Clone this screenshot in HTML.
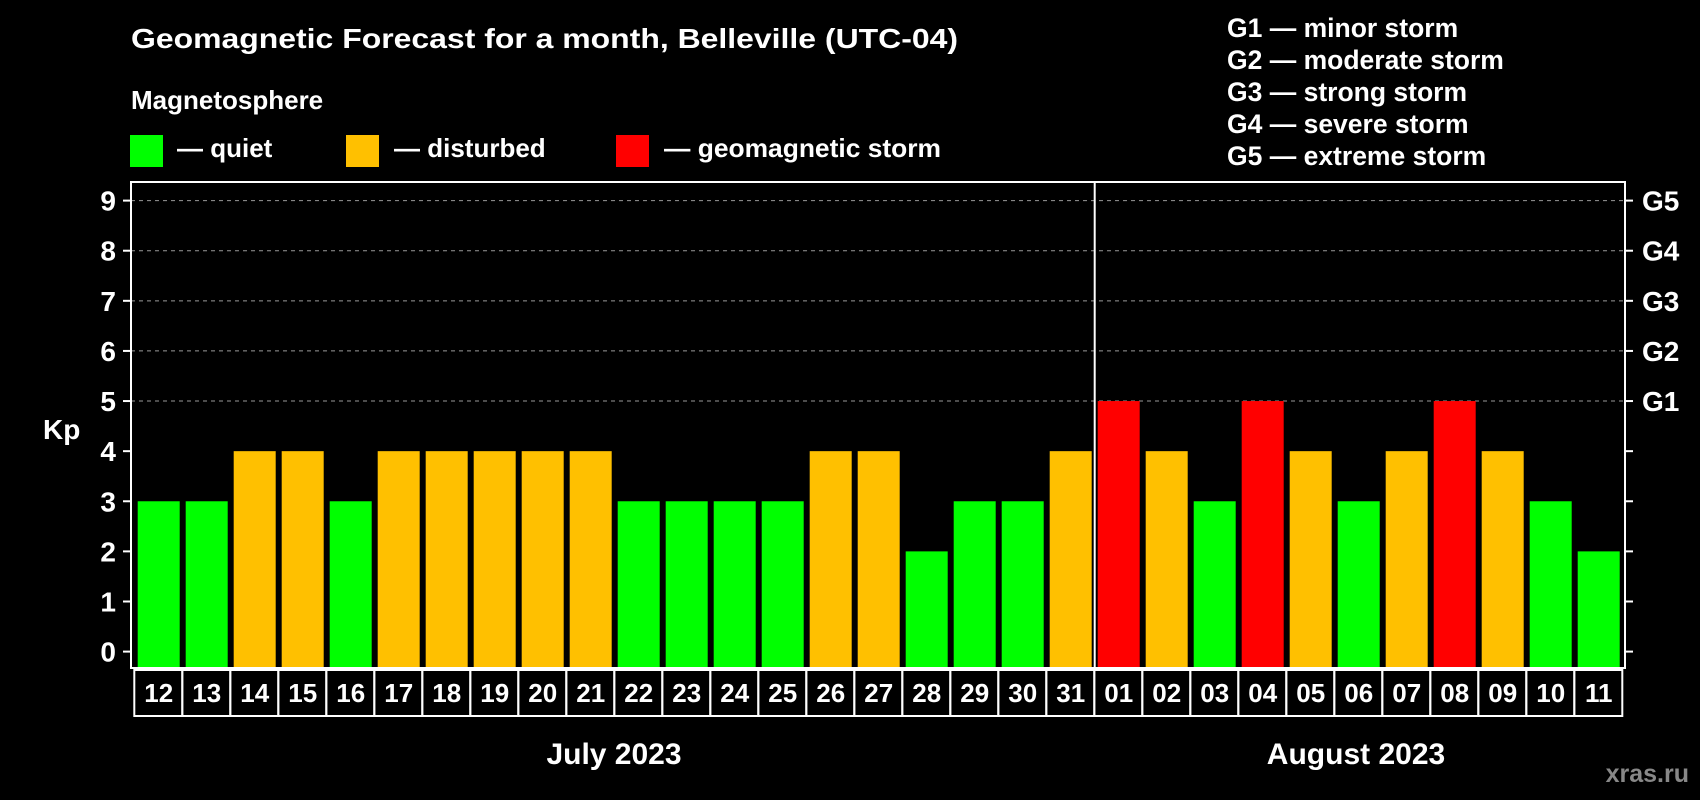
<!DOCTYPE html>
<html><head><meta charset="utf-8"><style>
html,body{margin:0;padding:0;background:#000;}
svg{display:block;font-family:"Liberation Sans",sans-serif;font-weight:bold;}
</style></head><body>
<svg id="chart" width="1700" height="800" viewBox="0 0 1700 800">
<rect x="0" y="0" width="1700" height="800" fill="#000"/>
<text x="131" y="48" fill="#fff" font-size="28" textLength="827" lengthAdjust="spacingAndGlyphs">Geomagnetic Forecast for a month, Belleville (UTC-04)</text>
<text x="131" y="109" fill="#fff" font-size="26">Magnetosphere</text>
<g><rect x="130" y="135" width="33" height="32" fill="#00ff00"/><text x="177" y="157" fill="#fff" font-size="26">— quiet</text></g>
<g><rect x="346" y="135" width="33" height="32" fill="#ffc000"/><text x="394" y="157" fill="#fff" font-size="26">— disturbed</text></g>
<g><rect x="616" y="135" width="33" height="32" fill="#ff0000"/><text x="664" y="157" fill="#fff" font-size="26" textLength="277" lengthAdjust="spacingAndGlyphs">— geomagnetic storm</text></g>
<g fill="#fff" font-size="26.5">
<text x="1227" y="37">G1 — minor storm</text>
<text x="1227" y="69">G2 — moderate storm</text>
<text x="1227" y="101">G3 — strong storm</text>
<text x="1227" y="133">G4 — severe storm</text>
<text x="1227" y="165">G5 — extreme storm</text>
</g>
<text x="43" y="439" fill="#fff" font-size="28">Kp</text>
<text x="614" y="764" fill="#fff" font-size="30" text-anchor="middle">July 2023</text>
<text x="1356" y="764" fill="#fff" font-size="30" text-anchor="middle">August 2023</text>
<text x="1689" y="782" fill="#888" font-size="25" text-anchor="end">xras.ru</text>
<g id="plot"></g>
</svg>
<script>
const days = ["12","13","14","15","16","17","18","19","20","21","22","23","24","25","26","27","28","29","30","31","01","02","03","04","05","06","07","08","09","10","11"];
const kpValues = [3,3,4,4,3,4,4,4,4,4,3,3,3,3,4,4,2,3,3,4,5,4,3,5,4,3,4,5,4,3,2];
const yTicks = [0,1,2,3,4,5,6,7,8,9];
const gLabels = ["","","","","","G1","G2","G3","G4","G5"];
const monthSplitIndex = 20;

(function(){
const NS = "http://www.w3.org/2000/svg";
const plot = document.getElementById("plot");
const pLeft = 131, pRight = 1625, pTop = 182, pBottom = 668;
const x0 = 137.7, pitch = 48, bw = 42;
const yS = v => 651.6 - v * (651.6 - 200.6) / 9;
const xb = i => x0 + i * pitch;
function mk(tag, attrs){const e=document.createElementNS(NS,tag);for(const k in attrs)e.setAttribute(k,attrs[k]);plot.appendChild(e);return e;}
function color(v){return v>=5?"#ff0000":(v>=4?"#ffc000":"#00ff00");}

yTicks.forEach((t,i)=>{
  if(t>=5){const g=mk("line",{x1:pLeft,x2:pRight,y1:yS(t),y2:yS(t),stroke:"#999","stroke-width":1,"stroke-dasharray":"4,4"});
  
  }
  const tl=mk("line",{x1:pLeft-8,x2:pLeft,y1:yS(t),y2:yS(t),stroke:"#fff","stroke-width":2});
  
  
  const tr=mk("line",{x1:pRight,x2:pRight+8,y1:yS(t),y2:yS(t),stroke:"#fff","stroke-width":2});
  
  
  const lb=mk("text",{x:116,y:yS(t)+10,fill:"#fff","font-size":28,"text-anchor":"end"});
  lb.textContent=t;
  
  
  if(gLabels[i]){const gl=mk("text",{x:1642,y:yS(t)+10,fill:"#fff","font-size":28});
  gl.textContent=gLabels[i];
  
  }
});

kpValues.forEach((v,i)=>{
  const r=mk("rect",{x:xb(i),y:yS(v),width:bw,height:pBottom-yS(v),fill:color(v)});
  
  
  const bx=mk("rect",{x:xb(i)-3.4,y:670,width:pitch,height:46,fill:"none",stroke:"#fff","stroke-width":2});
  
  
  const tx=mk("text",{x:xb(i)+bw/2,y:702,fill:"#fff","font-size":26,"text-anchor":"middle"});
  tx.textContent=days[i];
  
  
});

const sx=xb(monthSplitIndex)-3;
const sep=mk("line",{x1:sx,x2:sx,y1:pTop,y2:pBottom,stroke:"#fff","stroke-width":2});


const fr=mk("rect",{x:pLeft,y:pTop,width:pRight-pLeft,height:pBottom-pTop,fill:"none",stroke:"#fff","stroke-width":2});


})();
</script>
</body></html>
